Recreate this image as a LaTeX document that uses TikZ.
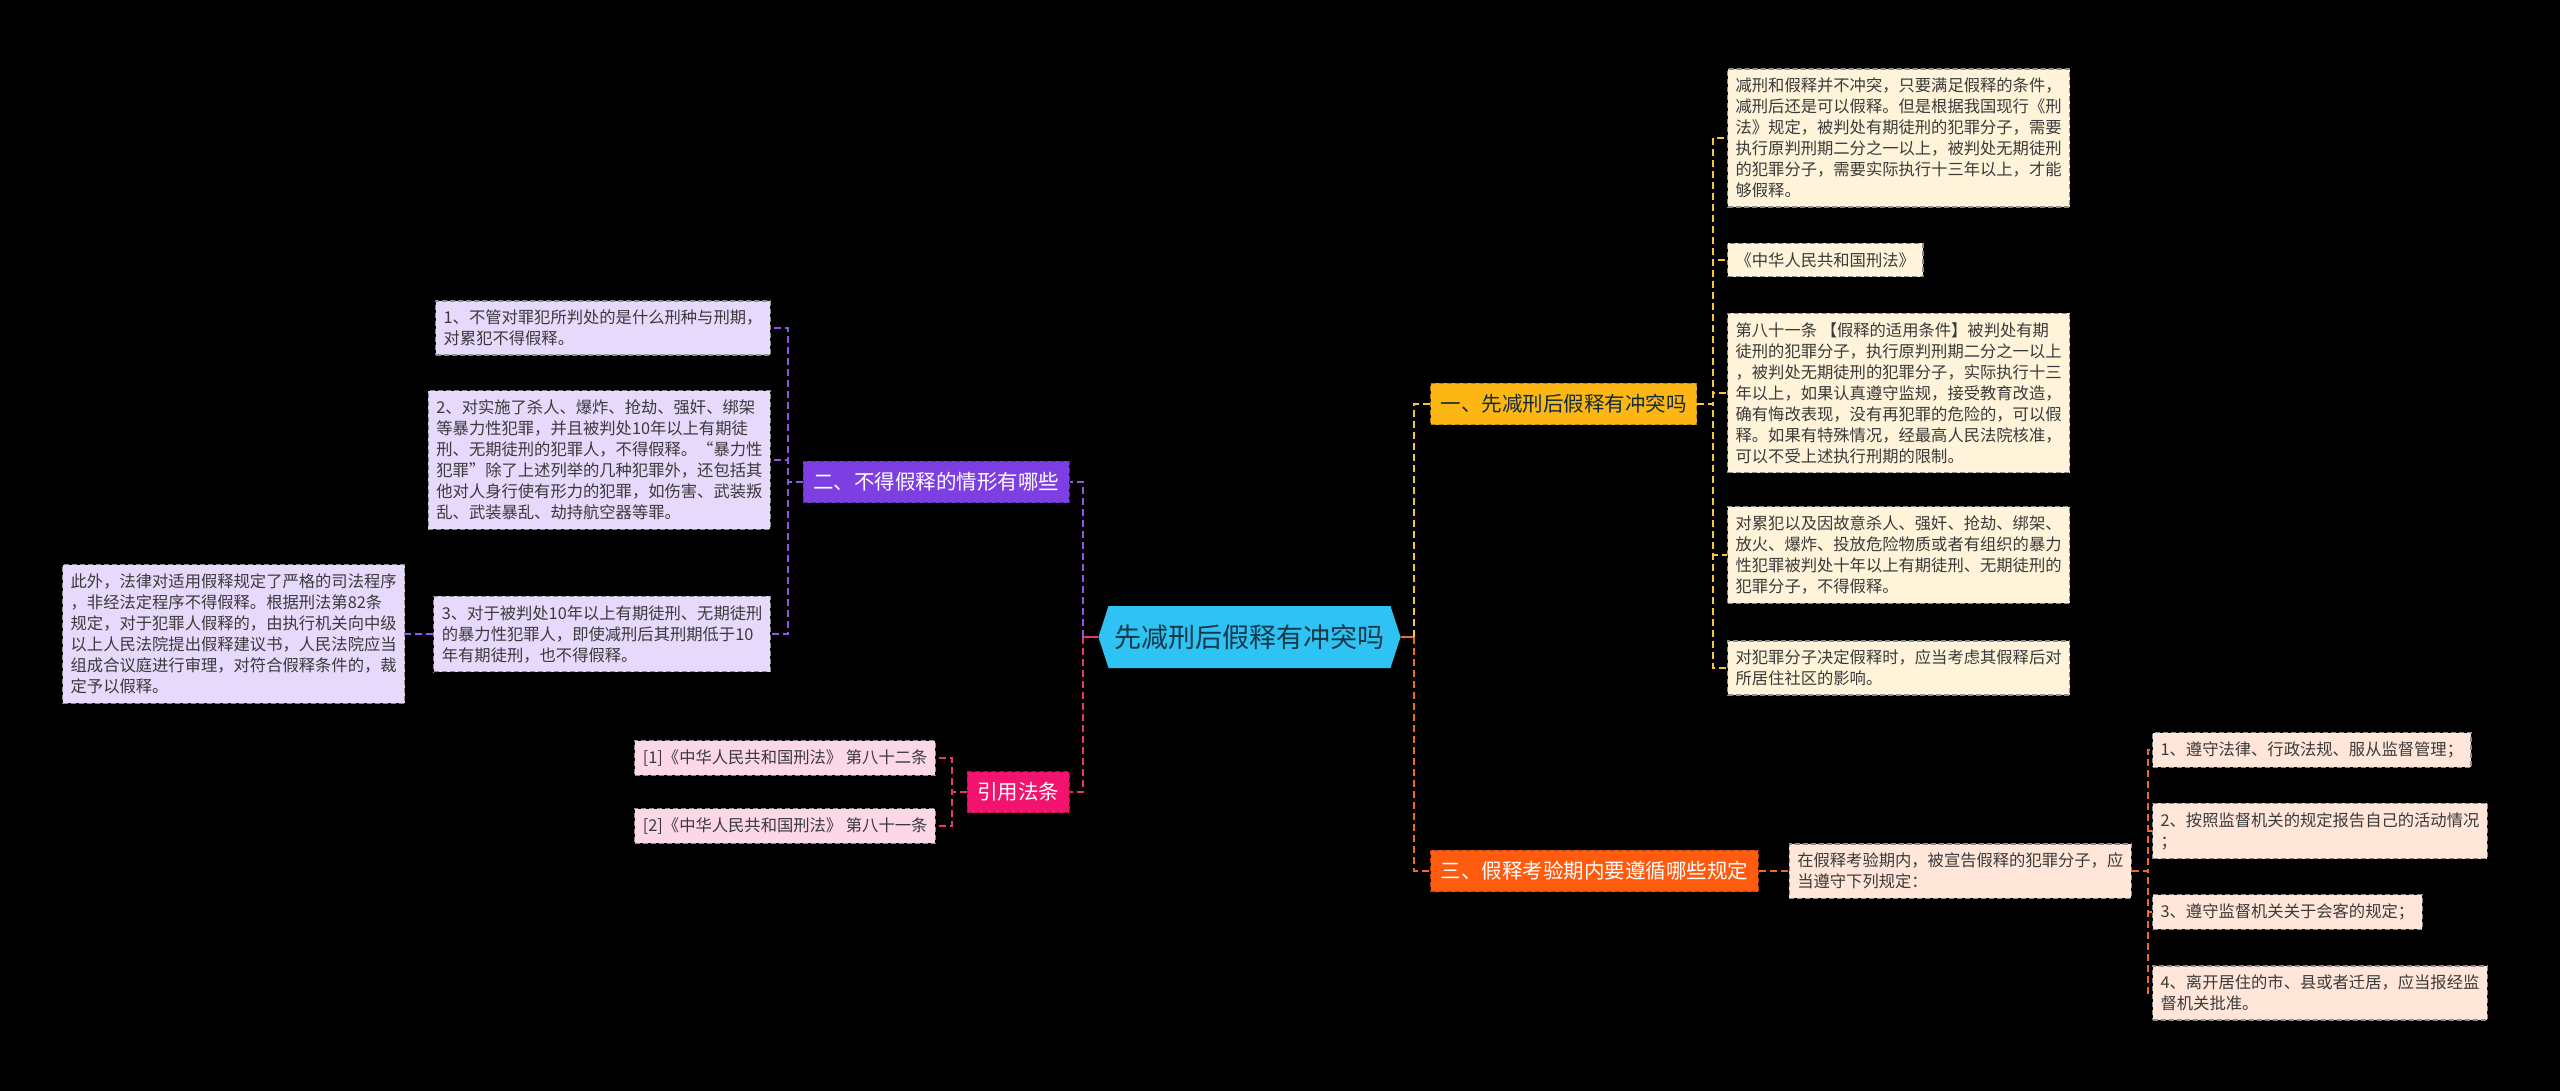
\documentclass[tikz,border=0pt]{standalone}
\usepackage{fontspec}
\setmainfont{Noto Sans CJK SC}
\usepackage{tikz}
\usetikzlibrary{positioning,shapes.symbols}
\definecolor{rootblue}{HTML}{2EC3F3}
\definecolor{rootink}{HTML}{15384A}
\definecolor{leafink}{HTML}{3A3A3A}
\definecolor{topicyellow}{HTML}{FDB714}
\definecolor{leafyellow}{HTML}{FFF4DA}
\definecolor{linkyellow}{HTML}{F6C53A}
\definecolor{topicorange}{HTML}{FF5B0F}
\definecolor{leaforange}{HTML}{FFE6D9}
\definecolor{linkorange}{HTML}{F06A2A}
\definecolor{topicpurple}{HTML}{7D3FE1}
\definecolor{leafpurple}{HTML}{E6D9FB}
\definecolor{linkpurple}{HTML}{8E55E6}
\definecolor{topicpink}{HTML}{F2136E}
\definecolor{leafpink}{HTML}{FCD7E7}
\definecolor{linkpink}{HTML}{E7356F}
\tikzset{
    mindroot/.style={shape=signal, signal to=west and east, signal pointer angle=144, fill=rootblue, text=rootink, font=\fontsize{27}{32}\selectfont, minimum height=62pt, inner xsep=6pt, inner ysep=0pt},
    mindtopic/.style={draw, line width=1.2pt, dash pattern=on 5pt off 3pt, font=\fontsize{20.5}{25}\selectfont, inner xsep=10pt, inner ysep=11pt},
    mindleaf/.style={draw=black!45, line width=1.2pt, dash pattern=on 5pt off 3pt, align=left, text=leafink, font=\fontsize{16.3}{21}\selectfont, inner xsep=8pt, inner ysep=9pt},
    mindlink/.style={line width=2pt, dash pattern=on 7pt off 4pt},
    mindstub/.style={line width=2.5pt}
}
\begin{document}
\begin{tikzpicture}[x=1pt, y=-1pt, node distance=30pt]
    \fill[black] (0,0) rectangle (2560,1091);
    \useasboundingbox (0,0) rectangle (2560,1091);
    \node[mindroot] (root) at (1249.5,637) {先减刑后假释有冲突吗};
    \node[mindtopic, fill=topicyellow, draw=topicyellow!70!black, text=rootink!80!black, anchor=west] (ytopic) at (1430,404) {一、先减刑后假释有冲突吗};
    \node[mindtopic, fill=topicorange, draw=topicorange!70!black, text=white, anchor=west] (otopic) at (1430,871) {三、假释考验期内要遵循哪些规定};
    \node[mindtopic, fill=topicpurple, draw=topicpurple!70!black, text=white, anchor=east] (vtopic) at (1070,482) {二、不得假释的情形有哪些};
    \node[mindtopic, fill=topicpink, draw=topicpink!70!black, text=white, anchor=east] (ktopic) at (1070,792) {引用法条};
    \node[mindleaf, fill=leafyellow, anchor=west] (y1) at (1727,138) {减刑和假释并不冲突，只要满足假释的条件，\\减刑后还是可以假释。但是根据我国现行《刑\\法》规定，被判处有期徒刑的犯罪分子，需要\\执行原判刑期二分之一以上，被判处无期徒刑\\的犯罪分子，需要实际执行十三年以上，才能\\够假释。};
    \node[mindleaf, fill=leafyellow, anchor=west] (y2) at (1727,260) {《中华人民共和国刑法》};
    \node[mindleaf, fill=leafyellow, anchor=west] (y3) at (1727,393) {第八十一条 【假释的适用条件】被判处有期\\徒刑的犯罪分子，执行原判刑期二分之一以上\\，被判处无期徒刑的犯罪分子，实际执行十三\\年以上，如果认真遵守监规，接受教育改造，\\确有悔改表现，没有再犯罪的危险的，可以假\\释。如果有特殊情况，经最高人民法院核准，\\可以不受上述执行刑期的限制。};
    \node[mindleaf, fill=leafyellow, anchor=west] (y4) at (1727,555) {对累犯以及因故意杀人、强奸、抢劫、绑架、\\放火、爆炸、投放危险物质或者有组织的暴力\\性犯罪被判处十年以上有期徒刑、无期徒刑的\\犯罪分子，不得假释。};
    \node[mindleaf, fill=leafyellow, anchor=west] (y5) at (1727,668) {对犯罪分子决定假释时，应当考虑其假释后对\\所居住社区的影响。};
    \node[mindleaf, fill=leaforange, right=of otopic] (orule) {在假释考验期内，被宣告假释的犯罪分子，应\\当遵守下列规定：};
    \node[mindleaf, fill=leaforange, anchor=west] (o1) at (2152,750) {1、遵守法律、行政法规、服从监督管理；};
    \node[mindleaf, fill=leaforange, anchor=west] (o2) at (2152,831) {2、按照监督机关的规定报告自己的活动情况\\；};
    \node[mindleaf, fill=leaforange, anchor=west] (o3) at (2152,912) {3、遵守监督机关关于会客的规定；};
    \node[mindleaf, fill=leaforange, anchor=west] (o4) at (2152,993) {4、离开居住的市、县或者迁居，应当报经监\\督机关批准。};
    \node[mindleaf, fill=leafpurple, anchor=east] (v1) at (771,328) {1、不管对罪犯所判处的是什么刑种与刑期，\\对累犯不得假释。};
    \node[mindleaf, fill=leafpurple, anchor=east] (v2) at (771,460) {2、对实施了杀人、爆炸、抢劫、强奸、绑架\\等暴力性犯罪，并且被判处10年以上有期徒\\刑、无期徒刑的犯罪人，不得假释。“暴力性\\犯罪”除了上述列举的几种犯罪外，还包括其\\他对人身行使有形力的犯罪，如伤害、武装叛\\乱、武装暴乱、劫持航空器等罪。};
    \node[mindleaf, fill=leafpurple, anchor=east] (v3) at (771,634) {3、对于被判处10年以上有期徒刑、无期徒刑\\的暴力性犯罪人，即使减刑后其刑期低于10\\年有期徒刑，也不得假释。};
    \node[mindleaf, fill=leafpurple, left=28pt of v3] (vextra) {此外，法律对适用假释规定了严格的司法程序\\，非经法定程序不得假释。根据刑法第82条\\规定，对于犯罪人假释的，由执行机关向中级\\以上人民法院提出假释建议书，人民法院应当\\组成合议庭进行审理，对符合假释条件的，裁\\定予以假释。};
    \node[mindleaf, fill=leafpink, anchor=east] (k1) at (936,758) {[1]《中华人民共和国刑法》 第八十二条};
    \node[mindleaf, fill=leafpink, anchor=east] (k2) at (936,826) {[2]《中华人民共和国刑法》 第八十一条};
    \draw[mindstub, linkorange] (root.east) -- ++(13,0) coordinate (rspine);
    \draw[mindlink, linkyellow] (rspine) |- (ytopic.west);
    \draw[mindlink, linkorange] (rspine) |- (otopic.west);
    \draw[mindstub, linkpink] (root.west) -- ++(-15,0) coordinate (lspine);
    \draw[mindlink, linkpurple] (lspine) |- (vtopic.east);
    \draw[mindlink, linkpink] (lspine) |- (ktopic.east);
    \foreach \leaf in {y1,y2,y3,y4,y5}
        \draw[mindlink, linkyellow] (ytopic.east) -- ++(16,0) |- (\leaf.west);
    \draw[mindlink, linkorange] (otopic.east) -- (orule.west);
    \foreach \leaf in {o1,o2,o3,o4}
        \draw[mindlink, linkorange] (orule.east) -- ++(16,0) |- (\leaf.west);
    \foreach \leaf in {v1,v2,v3}
        \draw[mindlink, linkpurple] (vtopic.west) -- ++(-15,0) |- (\leaf.east);
    \draw[mindlink, linkpurple] (v3.west) -- (vextra.east);
    \foreach \leaf in {k1,k2}
        \draw[mindlink, linkpink] (ktopic.west) -- ++(-15,0) |- (\leaf.east);
\end{tikzpicture}
\end{document}
